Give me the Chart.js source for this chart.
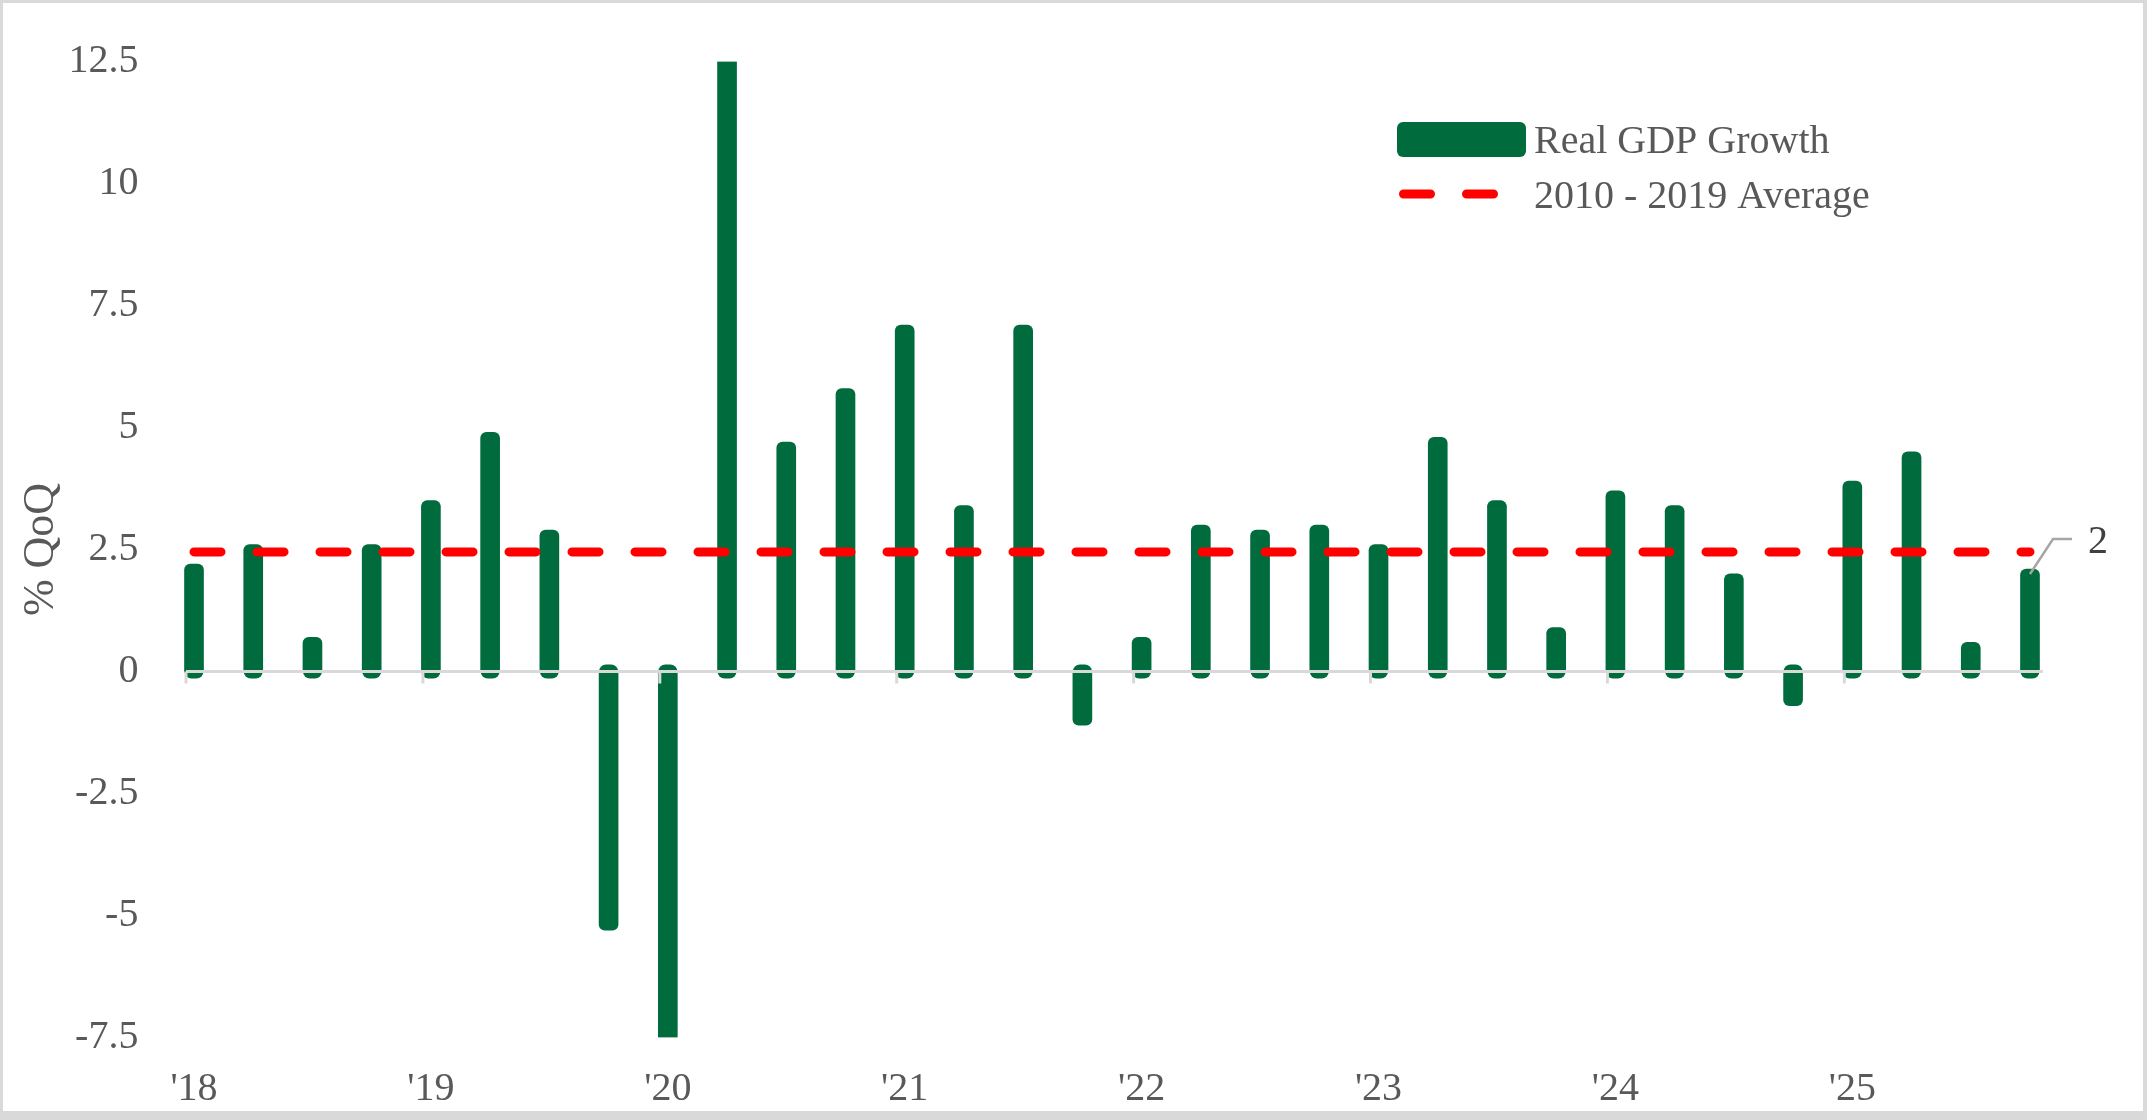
<!DOCTYPE html>
<html>
<head>
<meta charset="utf-8">
<script src="https://cdn.jsdelivr.net/npm/chart.js@4.4.1/dist/chart.umd.min.js"></script>
<style>
html,body{margin:0;padding:0;background:#fff;overflow:hidden}
canvas{display:block}
</style>
</head>
<body>
<canvas id="c" width="2147" height="1120"></canvas>
<script>
// ---- data ----
const quarters = [
  '2018 Q1','2018 Q2','2018 Q3','2018 Q4',
  '2019 Q1','2019 Q2','2019 Q3','2019 Q4',
  '2020 Q1','2020 Q2','2020 Q3','2020 Q4',
  '2021 Q1','2021 Q2','2021 Q3','2021 Q4',
  '2022 Q1','2022 Q2','2022 Q3','2022 Q4',
  '2023 Q1','2023 Q2','2023 Q3','2023 Q4',
  '2024 Q1','2024 Q2','2024 Q3','2024 Q4',
  '2025 Q1','2025 Q2','2025 Q3','2025 Q4'
];
const yearTicks = ["'18", "'19", "'20", "'21", "'22", "'23", "'24", "'25"];
const gdpGrowth = [
  2.2, 2.6, 0.7, 2.6,
  3.5, 4.9, 2.9, -5.3,
  -7.5, 12.5, 4.7, 5.8,
  7.1, 3.4, 7.1, -1.1,
  0.7, 3.0, 2.9, 3.0,
  2.6, 4.8, 3.5, 0.9,
  3.7, 3.4, 2.0, -0.7,
  3.9, 4.5, 0.6, 2.1
];
const avg2010to2019 = 2.45;
const yTicks = [-7.5, -5, -2.5, 0, 2.5, 5, 7.5, 10, 12.5];
const seriesNames = ['Real GDP Growth', '2010 - 2019 Average'];

// ---- style ----
const GREEN = '#006b3d';
const RED = '#ff0000';
const TXT = '#595959';
const AXIS_GREY = '#d9d9d9';
const FONT = '"Liberation Serif", "Times New Roman", serif';
const Y_MIN = yTicks[0], Y_MAX = yTicks[yTicks.length - 1];

Chart.defaults.font.family = FONT;

const decor = {
  id: 'decor',
  afterDatasetsDraw(chart) {
    const {ctx, scales: {x, y}} = chart;
    const meta = chart.getDatasetMeta(1);
    const y0 = y.getPixelForValue(0);
    const step = x.getPixelForValue(1) - x.getPixelForValue(0);
    ctx.save();
    // rounded caps extending past the zero line
    ctx.fillStyle = GREEN;
    meta.data.forEach(el => {
      const p = el.getProps(['x', 'y', 'base', 'width'], true);
      const up = p.y < p.base;
      ctx.beginPath();
      if (up) ctx.roundRect(p.x - p.width / 2, p.base - 1, p.width, 8, [0, 0, 7, 7]);
      else ctx.roundRect(p.x - p.width / 2, p.base - 7, p.width, 8, [7, 7, 0, 0]);
      ctx.fill();
    });
    // zero line
    const xs = x.getPixelForValue(0) - 0.135 * step;
    const xe = x.getPixelForValue(quarters.length - 1) + 0.22 * step;
    ctx.strokeStyle = AXIS_GREY;
    ctx.lineWidth = 3;
    ctx.beginPath();
    ctx.moveTo(xs, y0);
    ctx.lineTo(xe, y0);
    ctx.stroke();
    // year tick marks
    for (let i = 0; i < quarters.length; i += 4) {
      const tx = x.getPixelForValue(i) - 0.135 * step;
      ctx.beginPath();
      ctx.moveTo(tx, y0);
      ctx.lineTo(tx, y0 + 12);
      ctx.stroke();
    }
    // data label on last bar
    const last = meta.data[meta.data.length - 1];
    const lp = last.getProps(['x', 'y'], true);
    ctx.strokeStyle = '#a6a6a6';
    ctx.lineWidth = 2.5;
    ctx.beginPath();
    ctx.moveTo(lp.x, lp.y + 5);
    ctx.lineTo(lp.x + 23, lp.y - 30);
    ctx.lineTo(lp.x + 42, lp.y - 30);
    ctx.stroke();
    ctx.fillStyle = '#404040';
    ctx.font = '40px ' + FONT;
    ctx.textAlign = 'left';
    ctx.textBaseline = 'middle';
    ctx.fillText(String(Math.round(gdpGrowth[gdpGrowth.length - 1])), lp.x + 58, lp.y - 27);
    ctx.restore();
  },
  afterDraw(chart) {
    const {ctx} = chart;
    ctx.save();
    // legend
    const bar = chart.data.datasets[1];
    const line = chart.data.datasets[0];
    ctx.fillStyle = bar.backgroundColor;
    ctx.beginPath();
    ctx.roundRect(1397, 122, 129, 35, 6);
    ctx.fill();
    ctx.strokeStyle = line.borderColor;
    ctx.lineWidth = 9;
    ctx.lineCap = 'round';
    ctx.setLineDash([27, 36]);
    ctx.beginPath();
    ctx.moveTo(1403.5, 194);
    ctx.lineTo(1493.5, 194);
    ctx.stroke();
    ctx.setLineDash([]);
    ctx.fillStyle = TXT;
    ctx.font = '40px ' + FONT;
    ctx.textAlign = 'left';
    ctx.textBaseline = 'alphabetic';
    ctx.fillText(bar.label, 1534, 153);
    ctx.fillText(line.label, 1534, 208);
    // outer frame
    ctx.fillStyle = AXIS_GREY;
    ctx.fillRect(0, 0, 2147, 3);
    ctx.fillRect(0, 0, 3, 1120);
    ctx.fillRect(2143, 0, 4, 1120);
    ctx.fillRect(0, 1111, 2147, 9);
    ctx.restore();
  }
};

new Chart(document.getElementById('c'), {
  data: {
    labels: quarters,
    datasets: [
      {
        type: 'line',
        label: seriesNames[1],
        data: [
          {x: quarters[0], y: avg2010to2019},
          {x: quarters[quarters.length - 1], y: avg2010to2019}
        ],
        borderColor: RED,
        borderWidth: 9,
        borderDash: [27, 36],
        borderCapStyle: 'round',
        pointRadius: 0,
        fill: false,
        order: 0
      },
      {
        type: 'bar',
        label: seriesNames[0],
        data: gdpGrowth,
        backgroundColor: GREEN,
        barThickness: 19,
        borderRadius: c => (c.raw !== undefined && (c.raw >= Y_MAX || c.raw <= Y_MIN)) ? 0 : 6,
        order: 1
      }
    ]
  },
  options: {
    responsive: false,
    devicePixelRatio: 1,
    animation: false,
    layout: {padding: {left: 10, right: 87.4, top: 61.5, bottom: 10}},
    plugins: {legend: {display: false}, tooltip: {enabled: false}},
    scales: {
      x: {
        type: 'category',
        offset: true,
        grid: {display: false},
        border: {display: false},
        ticks: {
          autoSkip: false, maxRotation: 0, minRotation: 0,
          padding: 19.5, color: TXT, font: {size: 40},
          callback: (v, i) => (i % 4 === 0 ? yearTicks[i / 4] : '')
        },
        afterFit: s => { s.height = 72.5; }
      },
      y: {
        min: Y_MIN, max: Y_MAX,
        grid: {display: false},
        border: {display: false},
        ticks: {stepSize: 2.5, padding: 18, color: TXT, font: {size: 40}, callback: v => String(v)},
        title: {display: true, text: '% QoQ', color: TXT, font: {size: 44}, padding: {top: 5, bottom: 0}},
        afterFit: s => { s.width = 154.4; }
      }
    }
  },
  plugins: [decor]
});
</script>
</body>
</html>
